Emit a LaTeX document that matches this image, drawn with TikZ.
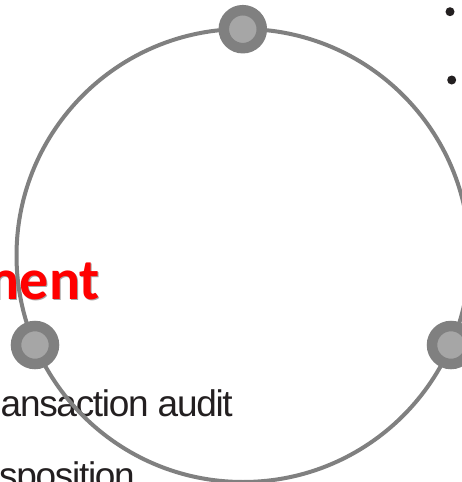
\documentclass[tikz,border=0pt]{standalone}
\usepackage{fontspec}
\setmainfont{Liberation Sans}
\newfontfamily\redfont{Carlito}
\newfontfamily\tightfont[LetterSpace=-3.5]{Liberation Sans}
\definecolor{ringgray}{HTML}{808080}
\definecolor{innergray}{HTML}{A6A6A6}
\definecolor{ink}{HTML}{231F20}
\definecolor{redtxt}{HTML}{FF0000}
\begin{document}
\begin{tikzpicture}[x=1pt,y=-1pt,
  ringstyle/.style={circle,draw=ringgray,line width=4pt,minimum size=453pt,inner sep=0pt},
  knob/.style={circle,draw=ringgray,fill=innergray,line width=10.5pt,minimum size=38pt,inner sep=0pt},
  bulletdot/.style={circle,fill=ink,minimum size=9pt,inner sep=0pt},
  bodytext/.style={anchor=base east,inner sep=0pt,text=ink,font=\tightfont\fontsize{37}{40}\selectfont},
  headtext/.style={anchor=base east,inner sep=0pt,text=redtxt,font=\redfont\bfseries\fontsize{58}{64}\selectfont}
]
\useasboundingbox (0,0) rectangle (461,482);
\fill[white] (0,0) rectangle (461,482);
\node[headtext,text=gray!70] (headshadow) at (101,300) {ment};
\node[headtext] (head) at (100,299) {ment};
\node[bodytext] (line1) at (233,416.7) {ansaction audit};
\node[bodytext] (line2) at (135,488.7) {sposition};
\node[ringstyle] (ring) at (243,255.5) {};
\node[knob] (ktop) at (242.8,29.2) {};
\node[knob] (kleft) at (35,345) {};
\node[knob] (kright) at (451,345) {};
\node[bulletdot] (b1) at (450,11.7) {};
\node[bulletdot] (b2) at (451.7,80) {};
\end{tikzpicture}
\end{document}
